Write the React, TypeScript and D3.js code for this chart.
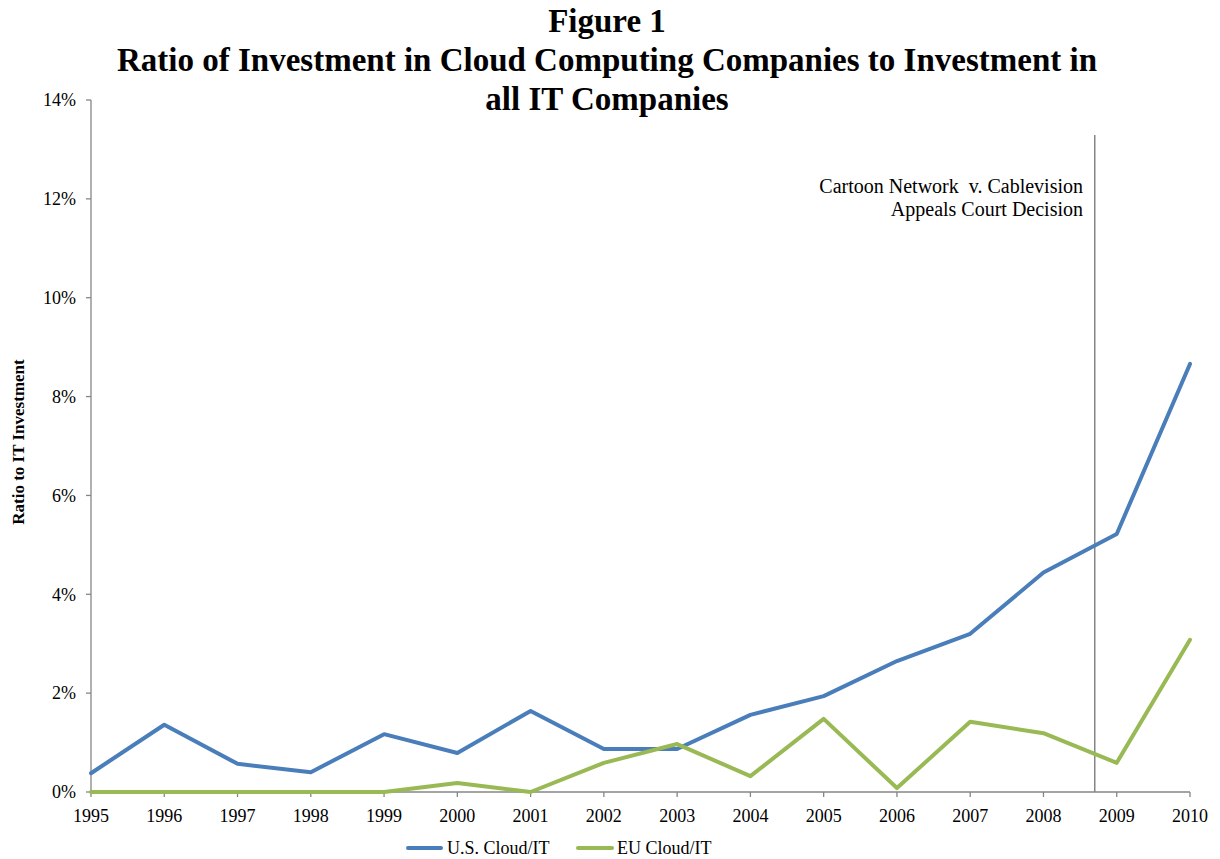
import React from "react";
import * as d3 from "d3";

const years = [1995, 1996, 1997, 1998, 1999, 2000, 2001, 2002, 2003, 2004, 2005, 2006, 2007, 2008, 2009, 2010];
const usCloud = [0.38, 1.36, 0.57, 0.4, 1.17, 0.79, 1.64, 0.87, 0.87, 1.56, 1.94, 2.65, 3.2, 4.44, 5.22, 8.66];
const euCloud = [0, 0, 0, 0, 0, 0.18, 0, 0.59, 0.97, 0.32, 1.48, 0.08, 1.42, 1.19, 0.59, 3.08];
const yTicks = [0, 2, 4, 6, 8, 10, 12, 14];
const eventYear = 2008.7;
const titleLines = ["Figure 1", "Ratio of Investment in Cloud Computing Companies to Investment in", "all IT Companies"];
const annotation = ["Cartoon Network  v. Cablevision", "Appeals Court Decision"];

const W = 1220, H = 859;
const left = 91, right = 1190, top = 100, bottom = 792;
const BLUE = "#4a7ebb", GREEN = "#98b954", AXIS = "#868686";
const FONT = "'Liberation Serif', 'Times New Roman', serif";

export default function App() {
  const x = d3.scaleLinear().domain([1995, 2010]).range([left, right]);
  const y = d3.scaleLinear().domain([0, 14]).range([bottom, top]);
  const line = d3.line<number>().x((_, i) => x(years[i])).y((d) => y(d));
  return (
    <svg width={W} height={H} style={{ position: "absolute", left: 0, top: 0 }} fontFamily={FONT}>
      <rect width={W} height={H} fill="white" />
      {titleLines.map((t, i) => (
        <text key={i} x={607} y={32 + i * 39} textAnchor="middle" fontSize={33} fontWeight="bold">{t}</text>
      ))}
      <line x1={left} x2={left} y1={top} y2={bottom} stroke={AXIS} strokeWidth={1.3} />
      <line x1={left} x2={right} y1={bottom} y2={bottom} stroke={AXIS} strokeWidth={1.3} />
      {yTicks.map((t) => (
        <g key={t}>
          <line x1={left - 5} x2={left} y1={y(t)} y2={y(t)} stroke={AXIS} strokeWidth={1.3} />
          <text x={76} y={y(t)} dy="0.35em" textAnchor="end" fontSize={18}>{t}%</text>
        </g>
      ))}
      {years.map((yr) => (
        <g key={yr}>
          <line x1={x(yr)} x2={x(yr)} y1={bottom} y2={bottom + 5} stroke={AXIS} strokeWidth={1.3} />
          <text x={x(yr)} y={bottom + 30} textAnchor="middle" fontSize={18}>{yr}</text>
        </g>
      ))}
      <text transform={`translate(24,442) rotate(-90)`} textAnchor="middle" fontSize={17} fontWeight="bold">Ratio to IT Investment</text>
      <line x1={x(eventYear)} x2={x(eventYear)} y1={135} y2={bottom} stroke={AXIS} strokeWidth={1.5} />
      {annotation.map((t, i) => (
        <text key={i} x={1083} y={193 + i * 23} textAnchor="end" fontSize={20} style={{ whiteSpace: "pre" }}>{t}</text>
      ))}
      <path d={line(usCloud) || ""} fill="none" stroke={BLUE} strokeWidth={4} strokeLinejoin="round" strokeLinecap="round" />
      <path d={line(euCloud) || ""} fill="none" stroke={GREEN} strokeWidth={4} strokeLinejoin="round" strokeLinecap="round" />
      <g>
        <line x1={408} x2={441} y1={848} y2={848} stroke={BLUE} strokeWidth={4} strokeLinecap="round" />
        <text x={447} y={854} fontSize={18}>U.S. Cloud/IT</text>
        <line x1={578} x2={612} y1={848} y2={848} stroke={GREEN} strokeWidth={4} strokeLinecap="round" />
        <text x={617} y={854} fontSize={18}>EU Cloud/IT</text>
      </g>
    </svg>
  );
}
